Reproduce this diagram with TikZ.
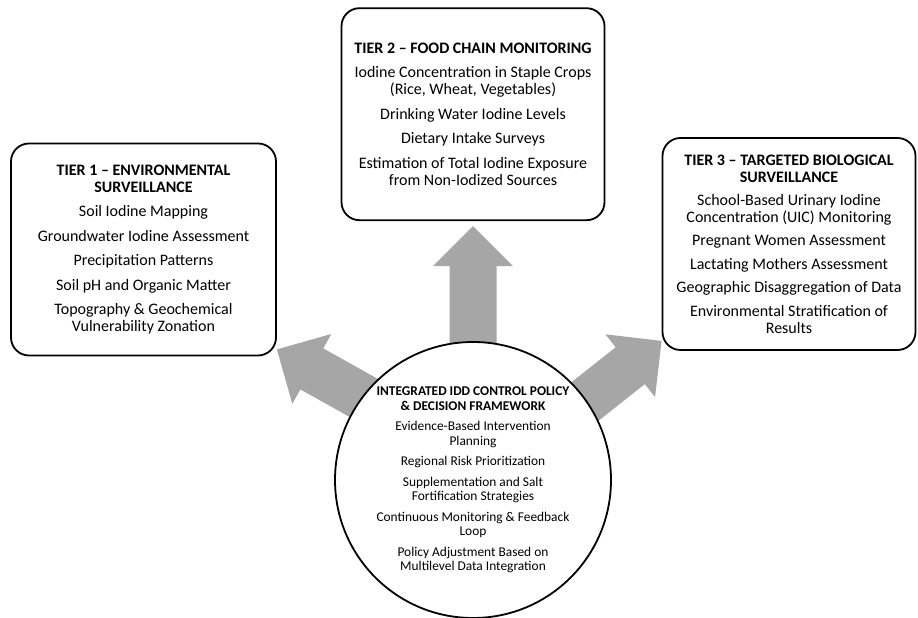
\documentclass[tikz,border=0pt]{standalone}
\usepackage{fontspec}
\setmainfont{Carlito}
\usepackage{tikz}
\usetikzlibrary{positioning, calc, backgrounds}
\definecolor{FlowGrey}{HTML}{A6A6A6}
\definecolor{InkBlack}{HTML}{000000}

% block arrow from #1 (start) to #2 (tip)
\newcommand\blockarrow[2]{%
  \coordinate (ab) at ($(#2)!40pt!(#1)$);
  \fill[FlowGrey] ($(#1)!23.5pt!90:(#2)$)
    -- ($(ab)!23.5pt!90:(#2)$)
    -- ($(ab)!40pt!90:(#2)$)
    -- (#2)
    -- ($(ab)!40pt!-90:(#2)$)
    -- ($(ab)!23.5pt!-90:(#2)$)
    -- ($(#1)!23.5pt!-90:(#2)$) -- cycle;}

\begin{document}
\begin{tikzpicture}[
  x=1pt, y=1pt,
  tier/.style={
    rectangle, rounded corners=18pt,
    draw=InkBlack, fill=white, line width=1.8pt,
    minimum width=#1, minimum height=212pt,
    align=center, inner sep=4pt,
    font=\fontsize{16}{17}\selectfont
  },
  hub/.style={
    circle, draw=InkBlack, fill=white, line width=1.8pt,
    minimum size=276pt, inner sep=0pt,
    align=center, font=\fontsize{13.4}{14.5}\selectfont
  },
]
\useasboundingbox (0,0) rectangle (918,618);

% Policy hub
\node[hub] (hub) at (473,138) {%
  \textbf{INTEGRATED IDD CONTROL POLICY}\\\textbf{\& DECISION FRAMEWORK}\\[6pt]
  Evidence-Based Intervention\\Planning\\[6pt]
  Regional Risk Prioritization\\[6pt]
  Supplementation and Salt\\Fortification Strategies\\[6pt]
  Continuous Monitoring \& Feedback\\Loop\\[6pt]
  Policy Adjustment Based on\\Multilevel Data Integration};

% Tiers
\node[tier=263pt, above=120pt of hub] (t2) {%
  \textbf{TIER 2 – FOOD CHAIN MONITORING}\\[7.5pt]
  Iodine Concentration in Staple Crops\\(Rice, Wheat, Vegetables)\\[7.5pt]
  Drinking Water Iodine Levels\\[7.5pt]
  Dietary Intake Surveys\\[7.5pt]
  Estimation of Total Iodine Exposure\\from Non-Iodized Sources};
\node[tier=265pt] (t1) at (143.5,368.5) {%
  \textbf{TIER 1 – ENVIRONMENTAL}\\\textbf{SURVEILLANCE}\\[7.5pt]
  Soil Iodine Mapping\\[7.5pt]
  Groundwater Iodine Assessment\\[7.5pt]
  Precipitation Patterns\\[7.5pt]
  Soil pH and Organic Matter\\[7.5pt]
  Topography \& Geochemical\\Vulnerability Zonation};
\node[tier=253pt] (t3) at (789,374) {%
  \textbf{TIER 3 – TARGETED BIOLOGICAL}\\\textbf{SURVEILLANCE}\\[6pt]
  School-Based Urinary Iodine\\Concentration (UIC) Monitoring\\[6.5pt]
  Pregnant Women Assessment\\[6.5pt]
  Lactating Mothers Assessment\\[6.5pt]
  Geographic Disaggregation of Data\\[6.5pt]
  Environmental Stratification of\\Results};

% Arrow ends
\coordinate (up0) at (hub.center);
\coordinate (up1) at ($(t2.south)+(0,-5)$);
\coordinate (lt0) at ($(hub.center)+(0,21)$);
\coordinate (lt1) at ($(t1.south east)+(0,7)$);
\coordinate (rt0) at ($(hub.center)+(0,-10)$);
\coordinate (rt1) at ($(t3.south west)+(0,10)$);

% Arrows
\begin{scope}[on background layer]
  \blockarrow{up0}{up1}
  \blockarrow{lt0}{lt1}
  \blockarrow{rt0}{rt1}
\end{scope}

\end{tikzpicture}
\end{document}
